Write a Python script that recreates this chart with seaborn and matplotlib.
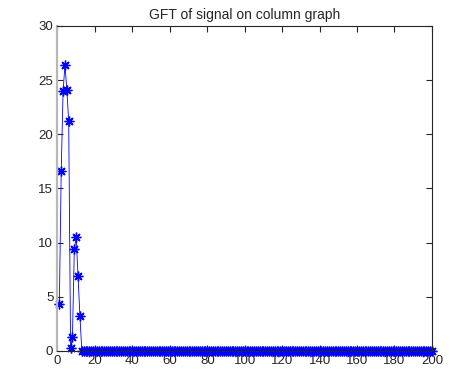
import matplotlib
matplotlib.use('Agg')
import matplotlib.pyplot as plt
import seaborn as sns
import pandas as pd
import numpy as np

# GFT magnitudes (first components, rest are ~0)
head_vals = [4.3, 16.6, 24.0, 26.4, 24.1, 21.2, 0.3, 1.3, 9.4, 10.5, 6.9, 3.2, 0.0]
tail_vals = [0.0] * 187  # flat at zero up to index 200
gft_vals = head_vals + tail_vals
idx = list(range(1, len(gft_vals) + 1))

df = pd.DataFrame({'idx': idx, 'gft': gft_vals})

sns.set_style('white')
plt.rcParams['font.family'] = ['Liberation Sans', 'DejaVu Sans']

fig = plt.figure(figsize=(4.49, 3.71), dpi=100)
ax = fig.add_axes([0.128, 0.054, 0.834, 0.876])

# matlab-style asterisk marker: 8 spokes
sns.lineplot(data=df, x='idx', y='gft', ax=ax, color='#0000ff',
             linewidth=0.6, marker=(8, 2, 0), markersize=7, markeredgewidth=1.0,
             markeredgecolor='#0000ff', markerfacecolor='#0000ff', clip_on=False)

ax.set_xlim(0, 200)
ax.set_ylim(0, 30)
ax.set_xticks(range(0, 201, 20))
ax.set_yticks(range(0, 31, 5))
ax.set_xlabel('')
ax.set_ylabel('')
ax.set_title('GFT of signal on column graph', fontsize=10, color='#262626', pad=5)

for s in ax.spines.values():
    s.set_color('#262626')
    s.set_linewidth(0.8)
ax.spines['left'].set_color('#b8b8b8')
ax.spines['left'].set_linewidth(1.6)

ax.tick_params(direction='in', length=4, width=0.8, colors='#262626',
               labelsize=9.5, top=True, right=True, bottom=True, left=True,
               pad=3)

fig.savefig('out.png', dpi=100)
